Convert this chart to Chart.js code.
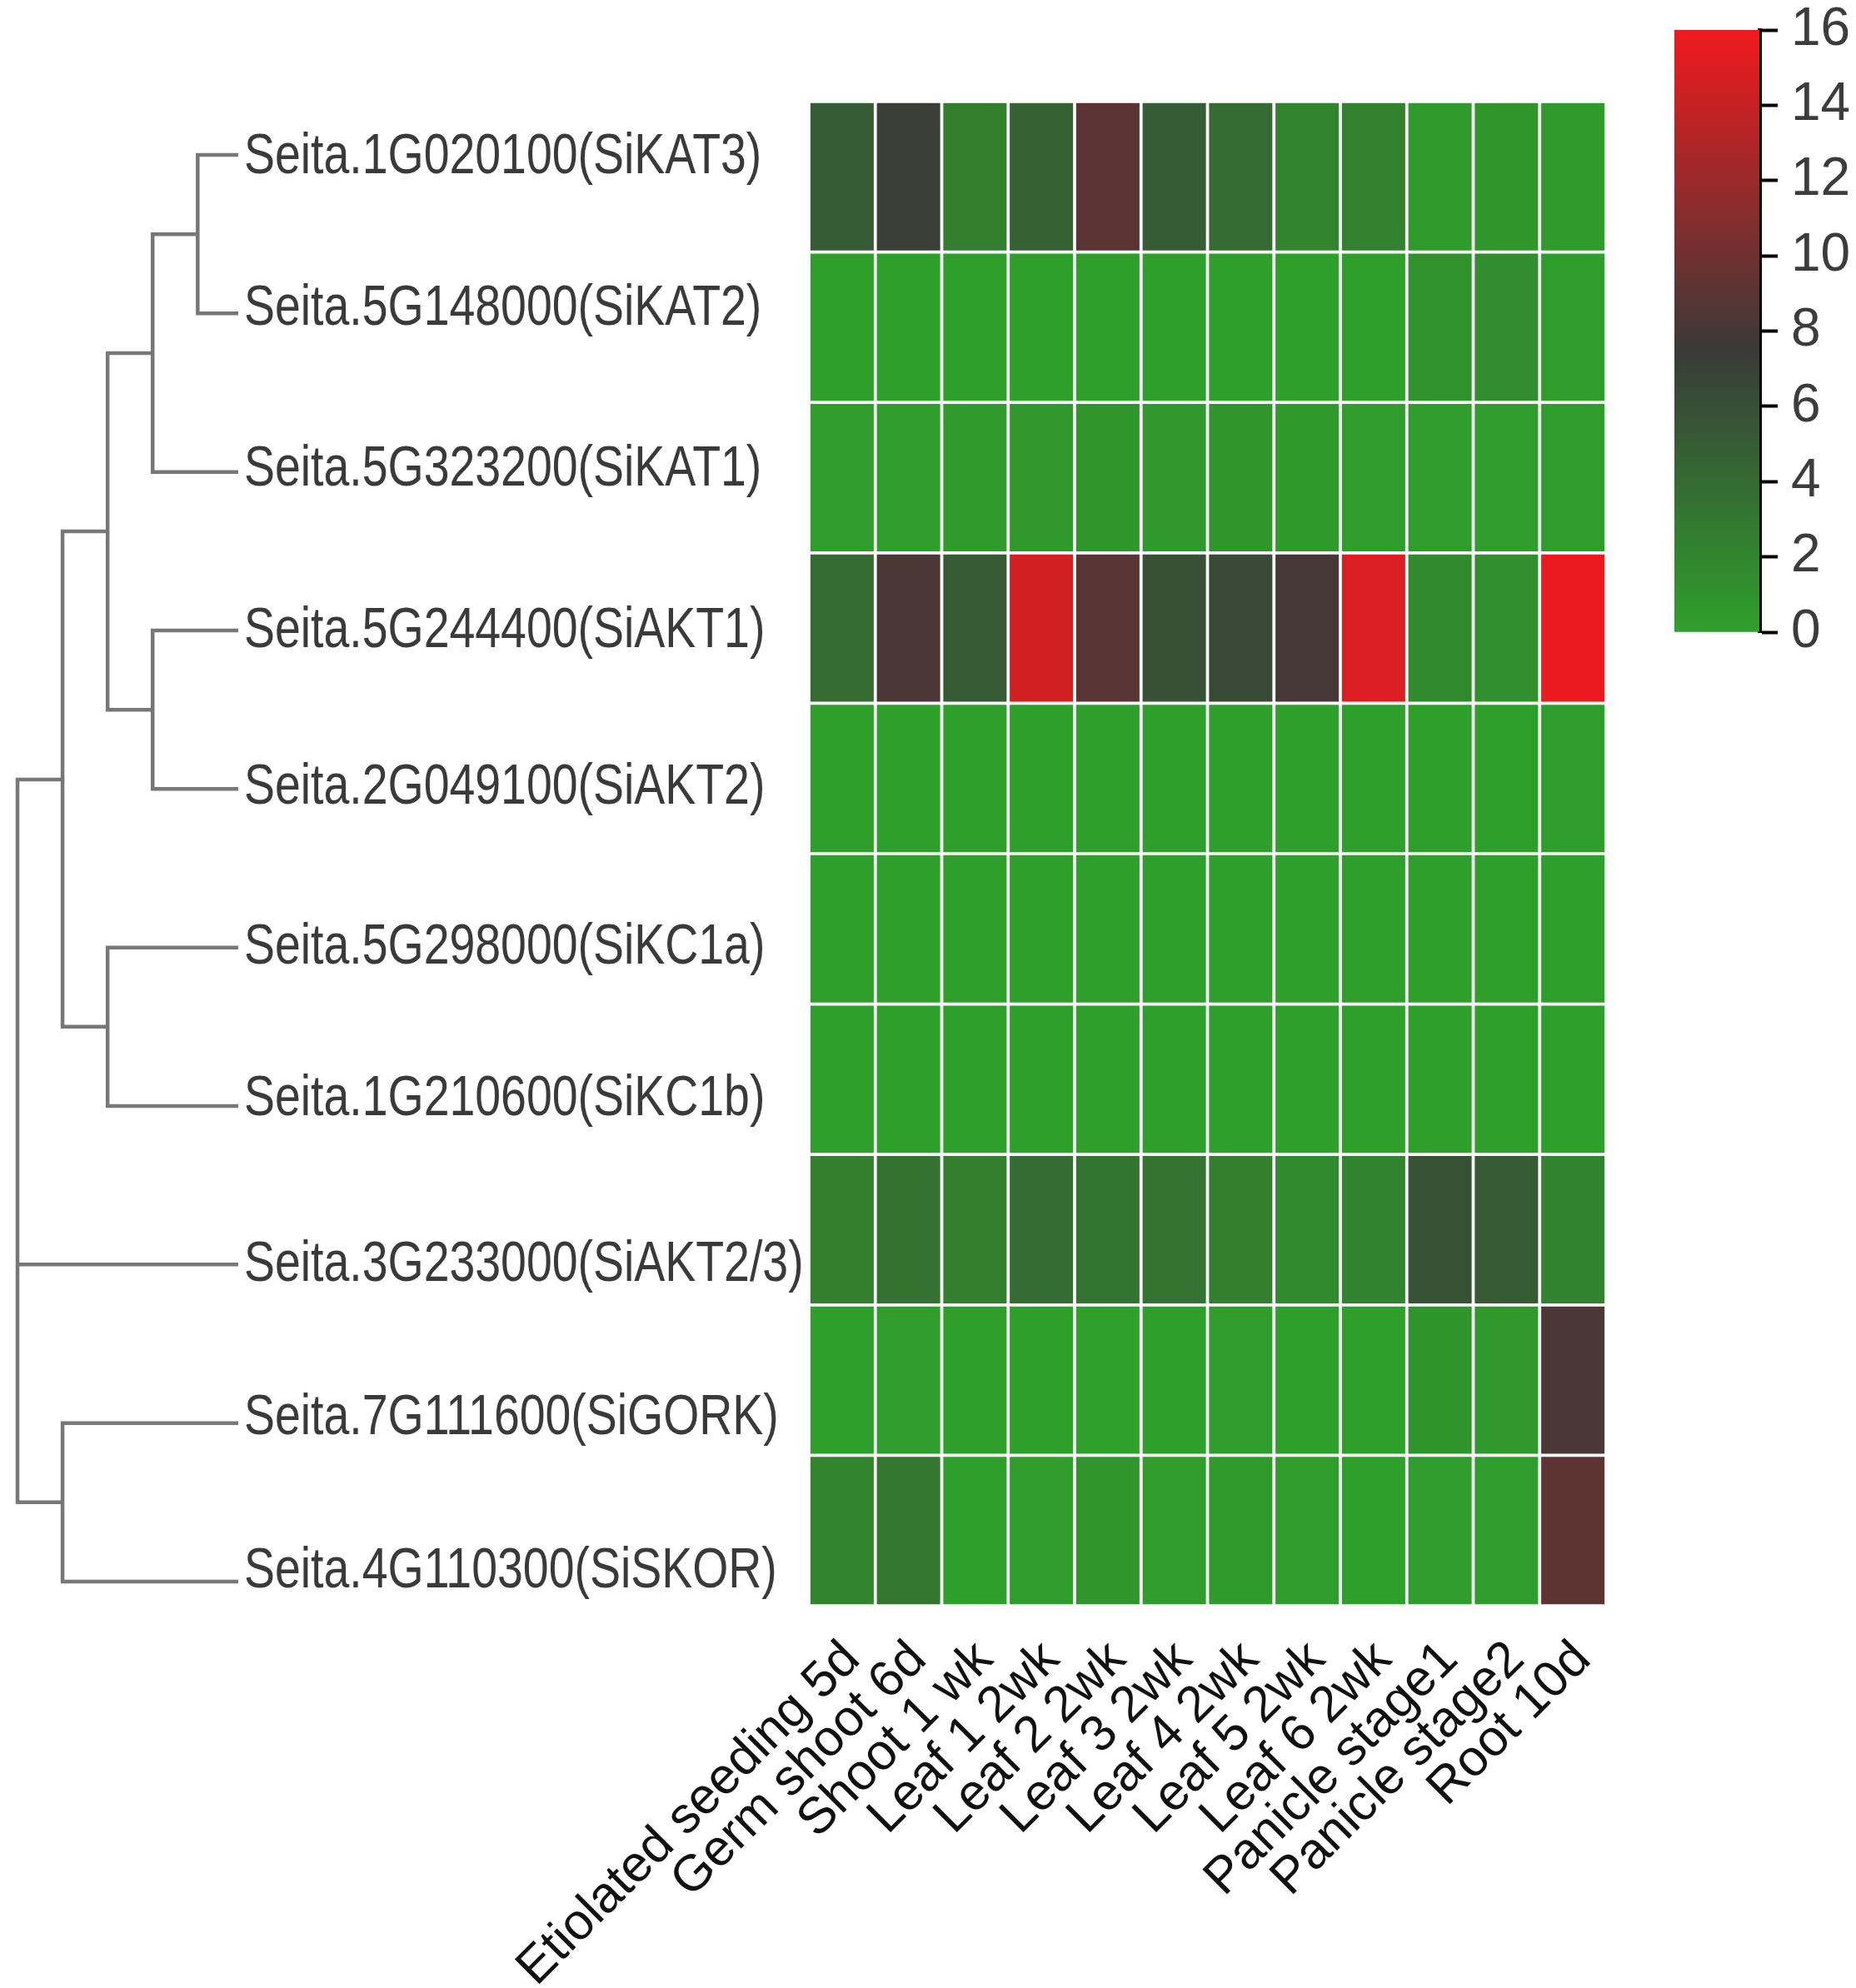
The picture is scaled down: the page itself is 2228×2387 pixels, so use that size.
<!DOCTYPE html>
<html>
<head>
<meta charset="utf-8">
<title>Heatmap</title>
<script src="https://cdn.jsdelivr.net/npm/chart.js@4/dist/chart.umd.min.js"></script>
<style>
  html, body { margin: 0; padding: 0; background: #fff; }
  #page { position: relative; width: 2228px; height: 2387px; overflow: hidden; background: #fff; }
  canvas { position: absolute; }
</style>
</head>
<body>
<div id="page">
  <canvas id="dendro" width="973" height="2387" style="left:0;top:0"></canvas>
  <canvas id="heat" width="2228" height="2387" style="left:0;top:0"></canvas>
  <canvas id="bar" width="268" height="1000" style="left:1960px;top:-100px"></canvas>
</div>
<script>
const tissues = ['Etiolated seeding 5d', 'Germ shoot 6d', 'Shoot 1 wk', 'Leaf 1 2wk', 'Leaf 2 2wk', 'Leaf 3 2wk',
  'Leaf 4 2wk', 'Leaf 5 2wk', 'Leaf 6 2wk', 'Panicle stage1', 'Panicle stage2', 'Root 10d'];

const genes = ['Seita.1G020100(SiKAT3)', 'Seita.5G148000(SiKAT2)', 'Seita.5G323200(SiKAT1)', 'Seita.5G244400(SiAKT1)',
  'Seita.2G049100(SiAKT2)', 'Seita.5G298000(SiKC1a)', 'Seita.1G210600(SiKC1b)', 'Seita.3G233000(SiAKT2/3)',
  'Seita.7G111600(SiGORK)', 'Seita.4G110300(SiSKOR)'];

const siKAT3 = [5.0, 7.2, 2.35, 4.6, 9.0, 5.0, 4.0, 2.0, 2.3, 0.4, 0.7, 0.4];
const siKAT2 = [0.1, 0.1, 0.1, 0.1, 0.1, 0.1, 0.1, 0.1, 0.1, 1.0, 1.4, 0.2];
const siKAT1 = [0.3, 0.2, 0.4, 0.6, 0.8, 0.6, 0.7, 0.5, 0.2, 0.3, 0.3, 0.2];
const siAKT1 = [4.0, 8.3, 5.1, 14.6, 8.9, 5.9, 6.3, 8.0, 15.0, 1.6, 1.2, 15.7];
const siAKT2 = [0.1, 0.1, 0.1, 0.1, 0.1, 0.1, 0.1, 0.1, 0.1, 0.1, 0.1, 0.2];
const siKC1a = [0.1, 0.1, 0.1, 0.1, 0.1, 0.1, 0.1, 0.1, 0.1, 0.1, 0.1, 0.1];
const siKC1b = [0.1, 0.1, 0.1, 0.1, 0.1, 0.1, 0.1, 0.1, 0.1, 0.1, 0.1, 0.1];
const siAKT23 = [2.35, 3.4, 2.35, 3.8, 3.2, 3.3, 2.5, 1.6, 2.1, 5.7, 5.1, 2.1];
const siGORK = [0.1, 0.2, 0.1, 0.1, 0.0, 0.1, 0.2, 0.1, 0.1, 0.9, 0.6, 8.3];
const siSKOR = [2.05, 3.1, 0.1, 0.2, 0.8, 0.3, 0.4, 0.2, 0.1, 0.2, 0.2, 9.2];
const rows = [siKAT3, siKAT2, siKAT1, siAKT1, siAKT2, siKC1a, siKC1b, siAKT23, siGORK, siSKOR];

// dendrogram: x = merge level, y = leaf slot (0 = top gene)
const leafX = 4.9;
const branches = [
  [[leafX, 0], [4, 0], [4, 1], [leafX, 1]],
  [[4, 0.5], [3, 0.5], [3, 2], [leafX, 2]],
  [[leafX, 3], [3, 3], [3, 4], [leafX, 4]],
  [[3, 1.25], [2, 1.25], [2, 3.5], [3, 3.5]],
  [[leafX, 5], [2, 5], [2, 6], [leafX, 6]],
  [[2, 2.375], [1, 2.375], [1, 5.5], [2, 5.5]],
  [[leafX, 8], [1, 8], [1, 9], [leafX, 9]],
  [[1, 3.94], [0, 3.94], [0, 8.5], [1, 8.5]],
  [[0, 7], [leafX, 7]]
];

const scaleTicks = [0, 2, 4, 6, 8, 10, 12, 14, 16];
const colorStops = [[0, [47, 160, 43]], [7.5, [58, 58, 56]], [16, [240, 26, 30]]];

// gene labels do not sit exactly on their leaf lines in the figure
const labelNudgeY = [3, -5, -2, 1, -1, 1, -8, 1, -5, -12];
const labelSquash = 0.815; // no narrow font here, so squeeze the text

function valueColor(v) {
  let a = colorStops[0], b = colorStops[1];
  if (v > b[0]) { a = colorStops[1]; b = colorStops[2]; }
  const t = (v - a[0]) / (b[0] - a[0]);
  const c = a[1].map((n, i) => Math.round(n + (b[1][i] - n) * t));
  return `rgb(${c[0]},${c[1]},${c[2]})`;
}

const geneLabels = {
  id: 'geneLabels',
  afterDraw(chart) {
    const c = chart.ctx, y = chart.scales.y, x = chart.scales.x;
    c.save();
    c.font = '68px "Liberation Sans"';
    c.fillStyle = '#3a3a3a';
    c.textAlign = 'left';
    c.textBaseline = 'middle';
    genes.forEach((g, i) => {
      c.save();
      c.translate(x.right + 7, y.getPixelForValue(i) + labelNudgeY[i]);
      c.scale(labelSquash, 1);
      c.fillText(g, 0, 0);
      c.restore();
    });
    c.restore();
  }
};

Chart.defaults.animation = false;
Chart.defaults.responsive = false;
Chart.defaults.plugins.legend.display = false;
Chart.defaults.plugins.tooltip.enabled = false;

new Chart(document.getElementById('dendro'), {
  type: 'scatter',
  plugins: [geneLabels],
  data: {
    datasets: branches.map(b => ({
      data: b.map(p => ({ x: p[0], y: p[1] })),
      showLine: true,
      tension: 0,
      pointRadius: 0,
      borderColor: '#777777',
      borderWidth: 4.5,
      borderJoinStyle: 'miter',
      clip: false
    }))
  },
  options: {
    layout: { padding: { left: 21, top: 186, bottom: 488, right: 0 } },
    scales: {
      x: { display: false, type: 'linear', min: 0, max: leafX },
      y: {
        type: 'linear',
        position: 'right',
        reverse: true,
        min: 0,
        max: 9,
        afterFit: s => { s.width = 687; },
        grid: { display: false },
        border: { display: false },
        ticks: { display: false, stepSize: 1 }
      }
    }
  }
});

new Chart(document.getElementById('heat'), {
  type: 'bar',
  data: {
    labels: tissues,
    datasets: rows.map((r, i) => ({
      label: genes[i],
      data: r.map(() => 1),
      backgroundColor: r.map(valueColor),
      borderColor: '#ffffff',
      borderWidth: 2.2,
      borderSkipped: false,
      barPercentage: 1,
      categoryPercentage: 1
    }))
  },
  options: {
    layout: { padding: { left: 971, top: 122, right: 300, bottom: 0 } },
    scales: {
      x: {
        stacked: true,
        afterFit: s => { s.height = 459; },
        grid: { display: false },
        border: { display: false },
        ticks: {
          autoSkip: false,
          minRotation: 45,
          maxRotation: 45,
          padding: 21,
          labelOffset: 12,
          color: '#111111',
          font: { family: '"Liberation Sans"', size: 61 }
        }
      },
      y: { display: false, stacked: true, reverse: true, min: 0, max: rows.length }
    }
  }
});

new Chart(document.getElementById('bar'), {
  type: 'bar',
  data: {
    labels: [''],
    datasets: [{
      data: [16],
      barPercentage: 1,
      categoryPercentage: 1,
      backgroundColor: ctx => {
        const area = ctx.chart.chartArea;
        if (!area) return '#2fa02b';
        const g = ctx.chart.ctx.createLinearGradient(0, area.bottom, 0, area.top);
        colorStops.forEach(s => g.addColorStop(s[0] / 16, `rgb(${s[1].join(',')})`));
        return g;
      }
    }]
  },
  options: {
    layout: { padding: { left: 50, top: 136, bottom: 141, right: 0 } },
    scales: {
      x: { display: false },
      y: {
        position: 'right',
        min: 0,
        max: 16,
        afterBuildTicks: s => { s.ticks = scaleTicks.map(v => ({ value: v })); },
        afterFit: s => { s.width = 116; },
        grid: { drawOnChartArea: false, tickLength: 22, tickWidth: 4, tickColor: '#000000' },
        border: { color: '#000000', width: 5 },
        ticks: {
          padding: 16,
          color: '#3c3c3c',
          font: { family: '"Liberation Sans"', size: 64 }
        }
      }
    }
  }
});
</script>
</body>
</html>
